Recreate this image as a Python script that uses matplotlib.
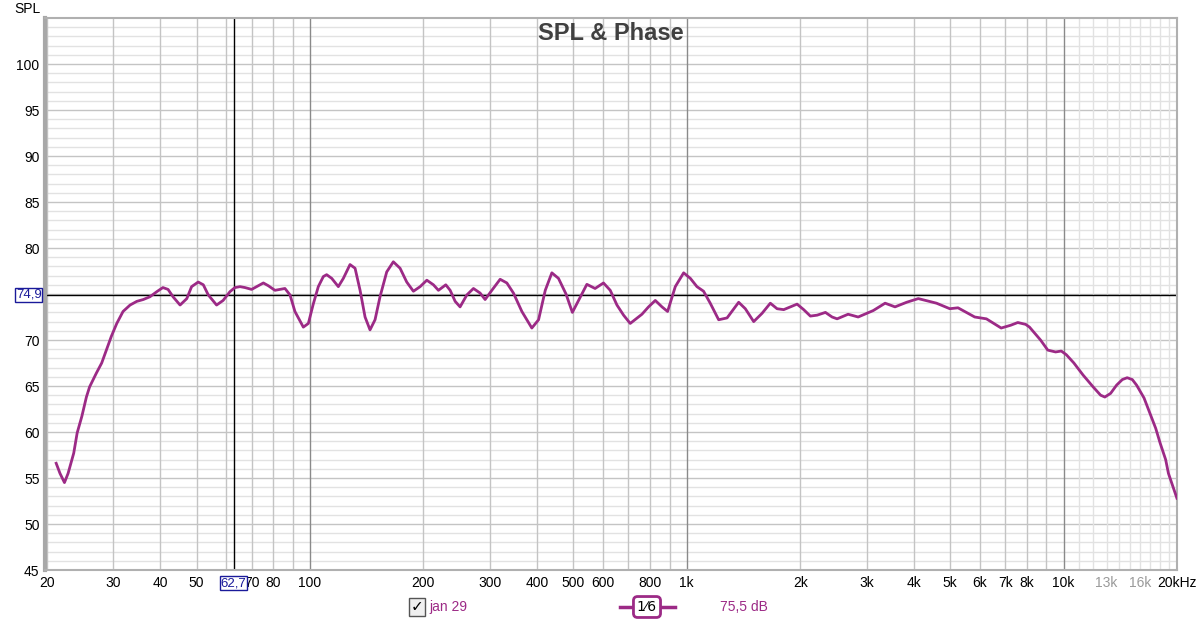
import numpy as np
import matplotlib
matplotlib.use('Agg')
import matplotlib.pyplot as plt
from matplotlib.transforms import blended_transform_factory
from matplotlib.lines import Line2D

plt.rcParams['font.family'] = ['Liberation Sans', 'DejaVu Sans']

# Frequency response (Hz, dB)
freqs = [21.2, 21.7, 22.3, 22.8, 23.6, 24.1, 24.8, 25.5, 26.0, 27.1, 28.0, 28.8, 29.7,
         30.7, 31.9, 33.3, 34.7, 36.1, 37.6, 39.2, 40.7, 42.0, 43.3, 45.2, 47.1, 48.5,
         50.5, 52.1, 53.7, 56.5, 58.8, 61.3, 63.2, 65.2, 67.2, 70.0, 72.9, 75.2, 77.5,
         80.7, 83.2, 85.8, 88.5, 91.2, 96.0, 99.0, 102.0, 105.2, 108.5, 110.7, 114.2,
         118.9, 122.6, 127.7, 131.7, 135.8, 140.0, 144.3, 148.8, 153.4, 159.8, 166.4,
         173.4, 180.6, 188.1, 196.0, 204.2, 212.6, 219.2, 229.3, 235.5, 242.8, 250.2,
         260.8, 271.5, 282.8, 291.6, 303.8, 319.6, 333.0, 346.7, 365.0, 387.9, 404.2,
         421.1, 438.4, 456.5, 478, 497, 516, 543, 571, 601, 626.4, 652.6, 679.5, 707.7,
         760.3, 791.5, 824.8, 859.3, 889.3, 932.1, 980.9, 1022, 1064, 1108, 1154, 1215,
         1279, 1373, 1430, 1505, 1584, 1666, 1736, 1808, 1883, 1962, 2043, 2128, 2218,
         2333, 2430, 2506, 2680, 2850, 3125, 3360, 3570, 3832, 4115, 4600, 4990, 5245,
         5810, 6240, 6530, 6830, 7234, 7560, 7930, 8120, 8686, 9080, 9524, 9860, 10170,
         10650, 11260, 11980, 12540, 12870, 13330, 13830, 14320, 14750, 15220, 15620,
         16350, 16960, 17560, 18040, 18660, 18980, 19640, 19990]
spl = [56.6, 55.5, 54.5, 55.5, 57.7, 59.9, 61.7, 63.8, 64.9, 66.4, 67.5, 68.9, 70.4,
       71.8, 73.1, 73.8, 74.2, 74.4, 74.7, 75.25, 75.7, 75.5, 74.7, 73.8, 74.5, 75.8,
       76.3, 76.0, 74.9, 73.8, 74.3, 75.25, 75.7, 75.8, 75.7, 75.5, 75.9, 76.2, 75.9,
       75.4, 75.5, 75.6, 74.9, 73.1, 71.4, 71.8, 73.9, 75.8, 76.9, 77.1, 76.7,
       75.8, 76.7, 78.2, 77.8, 75.4, 72.5, 71.1, 72.2, 74.7, 77.4, 78.5,
       77.8, 76.3, 75.3, 75.8, 76.5, 76.0, 75.4, 76.0, 75.4, 74.2, 73.6,
       74.9, 75.6, 75.1, 74.4, 75.4, 76.6, 76.2, 75.1, 73.1, 71.3, 72.2,
       75.4, 77.3, 76.7, 75.0, 73.0, 74.3, 76.05, 75.6, 76.2, 75.4, 73.8, 72.7, 71.8,
       72.8, 73.6, 74.3, 73.6, 73.1, 75.8, 77.3, 76.7, 75.8, 75.3, 74.0, 72.2,
       72.4, 74.1, 73.4, 72.0, 72.9, 74.0, 73.4, 73.3, 73.6, 73.9, 73.3, 72.6, 72.7,
       73.0, 72.5, 72.3, 72.8, 72.5, 73.2, 74.0, 73.6, 74.1, 74.5, 74.0, 73.4, 73.5,
       72.5, 72.3, 71.8, 71.3, 71.6, 71.9, 71.7, 71.4, 70.0, 68.9, 68.7, 68.8, 68.4,
       67.5, 66.2, 64.9, 64.0, 63.8, 64.2, 65.1, 65.7, 65.9, 65.7, 65.1,
       63.7, 62.0, 60.4, 58.8, 57.0, 55.5, 53.7, 52.8]

cursor_f = 62.7
cursor_db = 74.9

xtick_pos = [20, 30, 40, 50, 70, 80, 100, 200, 300, 400, 500, 600, 800,
             1000, 2000, 3000, 4000, 5000, 6000, 7000, 8000, 10000, 13000, 16000, 20000]
xtick_lab = ['20', '30', '40', '50', '70', '80', '100', '200', '300', '400', '500',
             '600', '800', '1k', '2k', '3k', '4k', '5k', '6k', '7k', '8k', '10k', '13k',
             '16k', '20kHz']
yticks = [45, 50, 55, 60, 65, 70, 80, 85, 90, 95, 100]

curve_col = '#9c2a86'
cursor_col = '#1a1a9a'

fig = plt.figure(figsize=(12, 6.22), dpi=100)
ax = fig.add_axes([45 / 1200, 52 / 622, 1132 / 1200, 552 / 622])
ax.set_xscale('log')
ax.set_xlim(19.8, 20000)
ax.set_ylim(45, 105)

# grid lines
for db in range(46, 105):
    col = '#c4c4c4' if db % 5 == 0 else '#e2e2e2'
    ax.axhline(db, color=col, lw=1, zorder=0)
grid_f = list(range(20, 100, 10)) + list(range(200, 1000, 100)) + list(range(2000, 10000, 1000))
for f in grid_f:
    ax.axvline(f, color='#c4c4c4', lw=1, zorder=0)
for f in range(11000, 20000, 1000):
    ax.axvline(f, color='#e2e2e2', lw=1, zorder=0)
for f in [100, 1000, 10000]:
    ax.axvline(f, color='#8a8a8a', lw=1, zorder=0)

# cursor
ax.axvline(cursor_f, color='black', lw=1, zorder=2)
ax.axhline(cursor_db, color='black', lw=1, zorder=2)

ax.plot(freqs, spl, color=curve_col, lw=2, solid_joinstyle='round', zorder=3)

ax.set_xticks(xtick_pos)
ax.set_xticklabels(xtick_lab)
ax.xaxis.set_minor_locator(plt.NullLocator())
ax.set_yticks(yticks)
ax.tick_params(length=0, labelsize=10, colors='black', pad=4)
for lab in ax.get_xticklabels():
    if lab.get_text() in ('13k', '16k'):
        lab.set_color('#9a9a9a')

for s in ['top', 'right', 'bottom']:
    ax.spines[s].set_color('#b0b0b0')
    ax.spines[s].set_linewidth(1.5)
ax.spines['left'].set_color('#a8a8a8')
ax.spines['left'].set_linewidth(3)

box = dict(boxstyle='square,pad=0.06', fc='white', ec=cursor_col, lw=1)
tx = blended_transform_factory(ax.transData, ax.transAxes)
ax.text(cursor_f, -0.024, '62,7', transform=tx, ha='center', va='center',
        fontsize=9.5, color=cursor_col, bbox=box, zorder=5, clip_on=False)
ty = blended_transform_factory(ax.transAxes, ax.transData)
ax.text(-0.003, cursor_db, '74,9', transform=ty, ha='right', va='center',
        fontsize=9.5, color=cursor_col, bbox=box, zorder=5, clip_on=False)

fig.text(14 / 1200, 1 - 9 / 622, 'SPL', fontsize=10, va='center', ha='left')
fig.text(611 / 1200, 1 - 34 / 622, 'SPL & Phase', fontsize=17, fontweight='bold',
         color='#404040', ha='center', va='center')

# legend row
ly = 1 - 607 / 622
fig.text(417 / 1200, ly, '\u2713', fontsize=11, ha='center', va='center',
         family=['DejaVu Sans'], fontweight='bold',
         bbox=dict(boxstyle='square,pad=0.1', fc='#f0f0f0', ec='#555555', lw=1))
fig.text(429 / 1200, ly, 'jan 29', fontsize=10, color=curve_col, ha='left', va='center')
fig.add_artist(Line2D([620 / 1200, 675 / 1200], [ly, ly], color=curve_col, lw=2.5,
                      transform=fig.transFigure))
fig.text(647 / 1200, ly, '1\u20446', fontsize=10, ha='center', va='center',
         family=['DejaVu Sans'],
         bbox=dict(boxstyle='round,pad=0.25,rounding_size=0.3', fc='white', ec=curve_col, lw=2))
fig.text(720 / 1200, ly, '75,5 dB', fontsize=10, color=curve_col, ha='left', va='center')

fig.savefig('out.png', dpi=100)
